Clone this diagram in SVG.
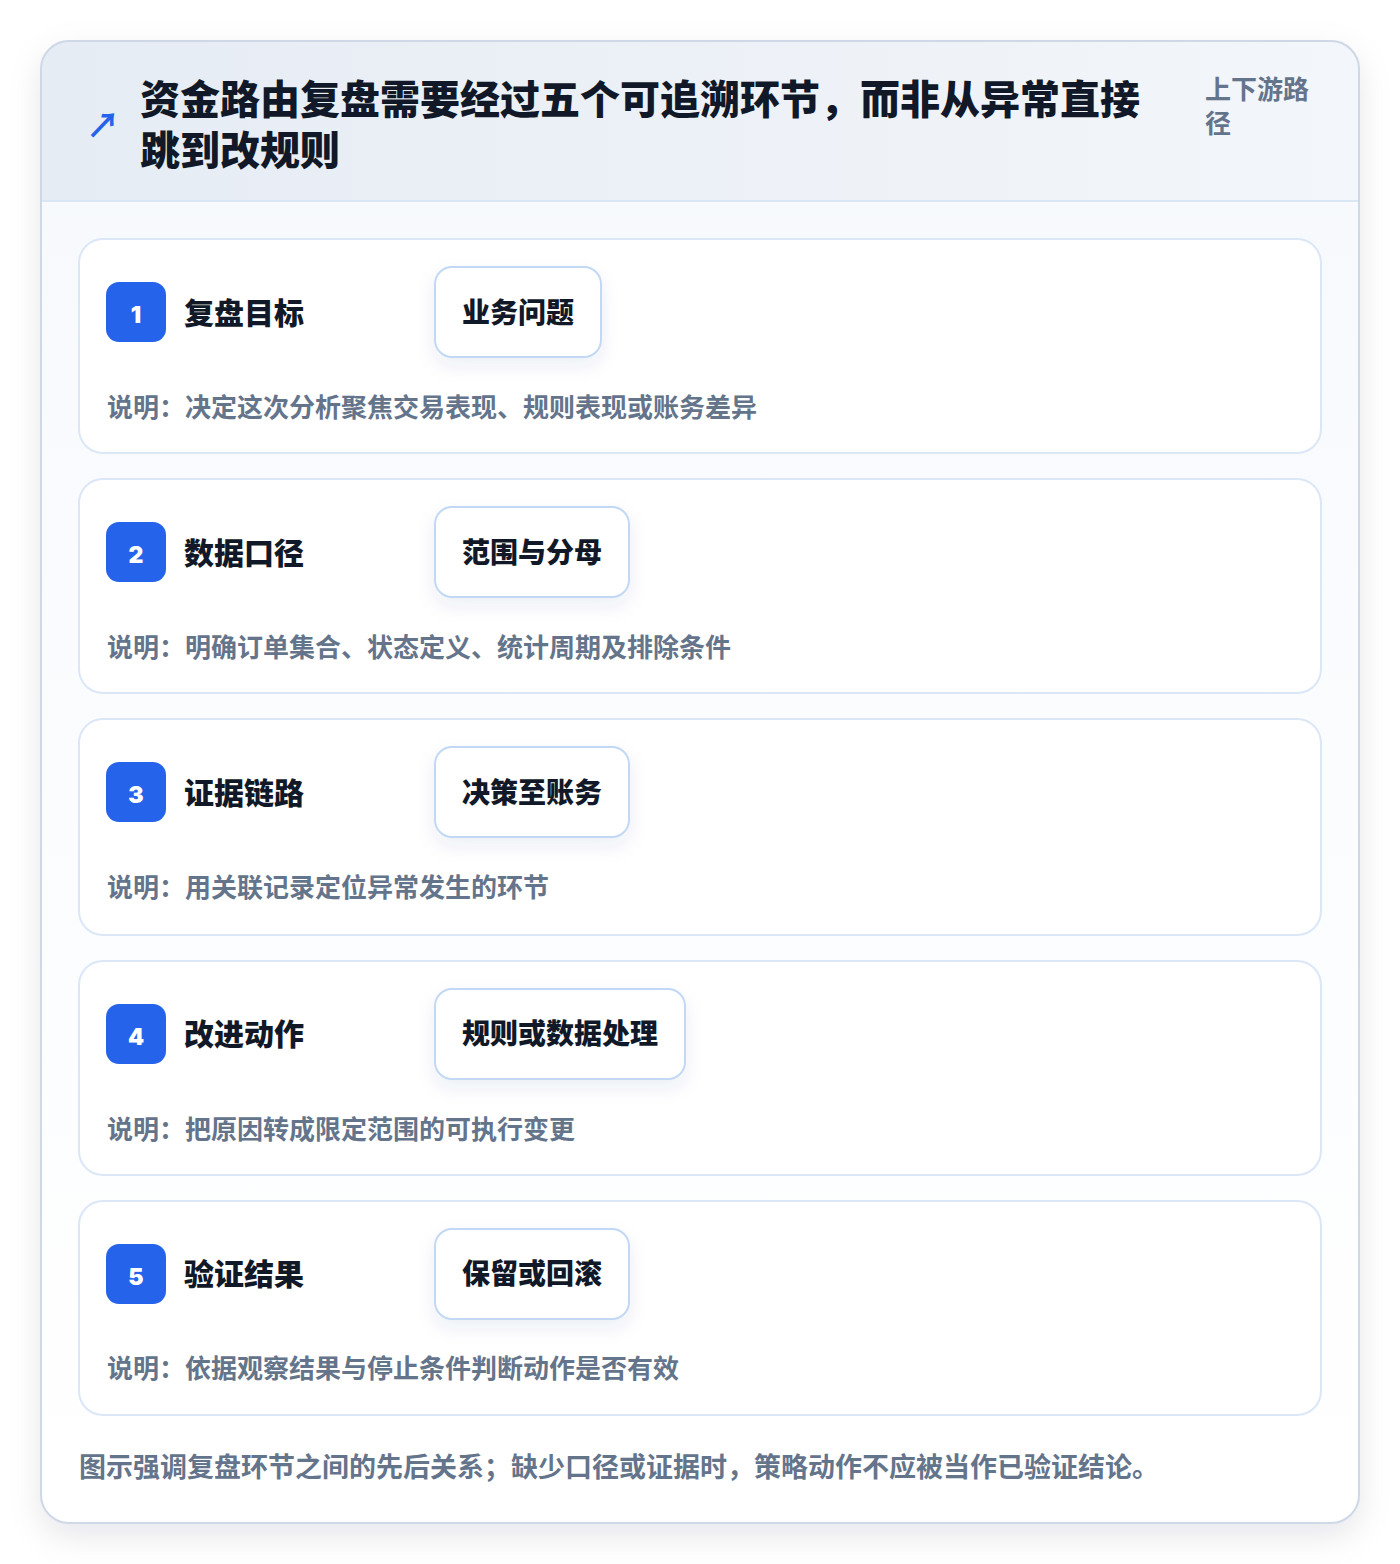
<svg xmlns="http://www.w3.org/2000/svg" width="1400" height="1564" viewBox="0 0 1400 1564">
<defs>
<style>
.cjk{font-family:"Noto Sans CJK SC","Noto Sans",sans-serif;}
.ttl{font-size:40px;font-weight:800;fill:#111827;}
.side{font-size:26px;font-weight:700;fill:#64748b;}
.card{fill:#ffffff;stroke:#dbe7f7;stroke-width:2;}
.badge{fill:#2563eb;}
.num{font-family:Inter,"Liberation Sans",sans-serif;font-size:23px;font-weight:900;fill:#ffffff;text-anchor:middle;}
.stitle{font-size:30px;font-weight:800;fill:#111827;}
.pill{fill:#ffffff;stroke:#c2d8f4;stroke-width:2;}
.ptext{font-size:28px;font-weight:800;fill:#111827;}
.desc{font-size:26px;font-weight:700;fill:#64748b;}
.cap{font-size:27px;font-weight:700;fill:#64748b;}
</style>
<linearGradient id="hdr" x1="0" y1="0" x2="1" y2="0">
<stop offset="0" stop-color="#e6ecf4"/>
<stop offset="1" stop-color="#f3f6fa"/>
</linearGradient>
<linearGradient id="body" x1="0" y1="0" x2="0" y2="1">
<stop offset="0" stop-color="#f6f9fd"/>
<stop offset="1" stop-color="#ffffff"/>
</linearGradient>
<filter id="outerShadow" x="-10%" y="-10%" width="120%" height="120%">
<feDropShadow dx="0" dy="12" stdDeviation="16" flood-color="#0f172a" flood-opacity="0.1"/>
</filter>
<filter id="pillShadow" x="-30%" y="-30%" width="160%" height="180%">
<feDropShadow dx="0" dy="8" stdDeviation="9" flood-color="#1e3a8a" flood-opacity="0.08"/>
</filter>
<clipPath id="outerClip"><rect x="41" y="41" width="1318" height="1482" rx="28"/></clipPath>
</defs>
<rect width="1400" height="1564" fill="#ffffff"/>
<g id="frame">
<rect x="41" y="41" width="1318" height="1482" rx="28" fill="url(#body)" filter="url(#outerShadow)"/>
<g clip-path="url(#outerClip)">
<rect x="41" y="41" width="1318" height="160" fill="url(#hdr)"/>
<line x1="41" y1="201" x2="1359" y2="201" stroke="#dbe6f4" stroke-width="2"/>
</g>
<rect x="41" y="41" width="1318" height="1482" rx="28" fill="none" stroke="#cfd8e6" stroke-width="2"/>
</g>
<g id="header">
<text class="cjk" x="86" y="138" font-size="34" font-weight="700" fill="#2563eb">↗</text>
<text class="cjk ttl" x="140" y="114">资金路由复盘需要经过五个可追溯环节，而非从异常直接</text>
<text class="cjk ttl" x="140" y="165">跳到改规则</text>
<text class="cjk side" x="1205" y="99">上下游路</text>
<text class="cjk side" x="1205" y="133">径</text>
</g>
<g id="connectors"></g>
<g id="step1">
<rect class="card" x="79" y="239" width="1242" height="214" rx="24"/>
<rect class="badge" x="106" y="282" width="60" height="60" rx="13"/>
<text class="num" x="136" y="323">1</text>
<text class="cjk stitle" x="184" y="324">复盘目标</text>
<rect class="pill" x="435" y="267" width="166" height="90" rx="17" filter="url(#pillShadow)"/>
<text class="cjk ptext" x="462" y="323">业务问题</text>
<text class="cjk desc" x="107" y="417">说明：决定这次分析聚焦交易表现、规则表现或账务差异</text>
</g>
<g id="step2">
<rect class="card" x="79" y="479" width="1242" height="214" rx="24"/>
<rect class="badge" x="106" y="522" width="60" height="60" rx="13"/>
<text class="num" x="136" y="563">2</text>
<text class="cjk stitle" x="184" y="564">数据口径</text>
<rect class="pill" x="435" y="507" width="194" height="90" rx="17" filter="url(#pillShadow)"/>
<text class="cjk ptext" x="462" y="563">范围与分母</text>
<text class="cjk desc" x="107" y="657">说明：明确订单集合、状态定义、统计周期及排除条件</text>
</g>
<g id="step3">
<rect class="card" x="79" y="719" width="1242" height="216" rx="24"/>
<rect class="badge" x="106" y="762" width="60" height="60" rx="13"/>
<text class="num" x="136" y="803">3</text>
<text class="cjk stitle" x="184" y="804">证据链路</text>
<rect class="pill" x="435" y="747" width="194" height="90" rx="17" filter="url(#pillShadow)"/>
<text class="cjk ptext" x="462" y="803">决策至账务</text>
<text class="cjk desc" x="107" y="897">说明：用关联记录定位异常发生的环节</text>
</g>
<g id="step4">
<rect class="card" x="79" y="961" width="1242" height="214" rx="24"/>
<rect class="badge" x="106" y="1004" width="60" height="60" rx="13"/>
<text class="num" x="136" y="1045">4</text>
<text class="cjk stitle" x="184" y="1045">改进动作</text>
<rect class="pill" x="435" y="989" width="250" height="90" rx="17" filter="url(#pillShadow)"/>
<text class="cjk ptext" x="462" y="1044">规则或数据处理</text>
<text class="cjk desc" x="107" y="1139">说明：把原因转成限定范围的可执行变更</text>
</g>
<g id="step5">
<rect class="card" x="79" y="1201" width="1242" height="214" rx="24"/>
<rect class="badge" x="106" y="1244" width="60" height="60" rx="13"/>
<text class="num" x="136" y="1285">5</text>
<text class="cjk stitle" x="184" y="1285">验证结果</text>
<rect class="pill" x="435" y="1229" width="194" height="90" rx="17" filter="url(#pillShadow)"/>
<text class="cjk ptext" x="462" y="1284">保留或回滚</text>
<text class="cjk desc" x="107" y="1378">说明：依据观察结果与停止条件判断动作是否有效</text>
</g>
<g id="caption">
<text class="cjk cap" x="79" y="1477">图示强调复盘环节之间的先后关系；缺少口径或证据时，策略动作不应被当作已验证结论。</text>
</g>
</svg>
